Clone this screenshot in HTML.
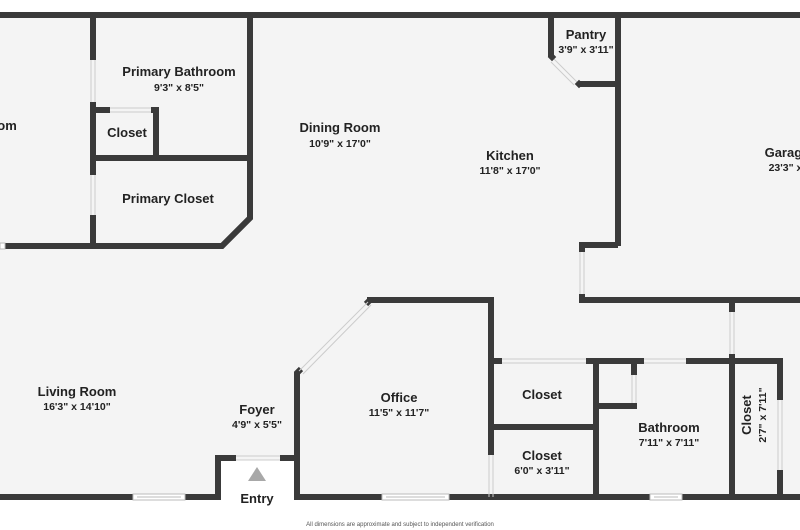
<!DOCTYPE html>
<html><head><meta charset="utf-8"><style>
html,body{margin:0;padding:0;background:#fff;}
svg{display:block;font-family:"Liberation Sans",sans-serif;}
.t{font-weight:bold;font-size:13px;fill:#222;text-anchor:middle;}
.d{font-weight:bold;font-size:10.5px;fill:#222;text-anchor:middle;}
</style></head><body>
<svg width="800" height="530" viewBox="0 0 800 530" xmlns="http://www.w3.org/2000/svg">
<rect x="0" y="15" width="800" height="483" fill="#f4f4f4"/>
<rect x="220" y="460" width="76" height="40" fill="#fff"/>
<g stroke="#3a3a3a" stroke-width="6" fill="none" stroke-linecap="butt">
<!-- top -->
<line x1="0" y1="15" x2="800" y2="15"/>
<!-- bottom -->
<line x1="0" y1="497" x2="221" y2="497"/>
<line x1="294" y1="497" x2="800" y2="497"/>
<!-- entry -->
<polyline points="218,500 218,458 236,458"/>
<line x1="280" y1="458" x2="297" y2="458"/>
<!-- left block -->
<line x1="93" y1="15" x2="93" y2="60"/>
<line x1="93" y1="102" x2="93" y2="175"/>
<line x1="93" y1="215" x2="93" y2="249"/>
<polyline points="5,246 222,246 250,218 250,15"/>
<line x1="93" y1="158" x2="250" y2="158"/>
<line x1="93" y1="110" x2="110" y2="110"/>
<polyline points="151,110 156,110 156,158"/>
<!-- pantry -->
<polyline points="551,15 551,57"/>
<polyline points="579,84 618,84"/>
<line x1="618" y1="15" x2="618" y2="246"/>
<polyline points="618,245 582,245 582,252"/>
<polyline points="582,294 582,300 800,300"/>
<!-- right hall -->
<line x1="732" y1="300" x2="732" y2="312"/>
<line x1="732" y1="354" x2="732" y2="497"/>
<!-- office -->
<polyline points="367,300 491,300 491,455"/>
<polyline points="297,497 297,373 301,369"/>
<line x1="366" y1="304" x2="370" y2="300"/>
<!-- closets row -->
<line x1="491" y1="361" x2="502" y2="361"/>
<line x1="586" y1="361" x2="644" y2="361"/>
<line x1="686" y1="361" x2="783" y2="361"/>
<line x1="491" y1="427" x2="596" y2="427"/>
<line x1="596" y1="361" x2="596" y2="497"/>
<line x1="634" y1="361" x2="634" y2="375"/>
<line x1="596" y1="406" x2="637" y2="406"/>
<line x1="780" y1="361" x2="780" y2="400"/>
<line x1="780" y1="470" x2="780" y2="497"/>
</g>
<!-- door/window lines -->
<g stroke="#ccc" stroke-width="1" fill="none">
<line x1="91" y1="60" x2="91" y2="102"/><line x1="95" y1="60" x2="95" y2="102"/>
<line x1="91" y1="175" x2="91" y2="215"/><line x1="95" y1="175" x2="95" y2="215"/>
<line x1="110" y1="108" x2="151" y2="108"/><line x1="110" y1="112" x2="151" y2="112"/>
<line x1="236" y1="456" x2="280" y2="456"/><line x1="236" y1="460" x2="280" y2="460"/>
<line x1="580" y1="252" x2="580" y2="294"/><line x1="584" y1="252" x2="584" y2="294"/>
<line x1="730" y1="312" x2="730" y2="354"/><line x1="734" y1="312" x2="734" y2="354"/>
<line x1="502" y1="359" x2="586" y2="359"/><line x1="502" y1="363" x2="586" y2="363"/>
<line x1="644" y1="359" x2="686" y2="359"/><line x1="644" y1="363" x2="686" y2="363"/>
<line x1="489" y1="455" x2="489" y2="497"/><line x1="493" y1="455" x2="493" y2="497"/>
<line x1="632" y1="375" x2="632" y2="403"/><line x1="636" y1="375" x2="636" y2="403"/>
<line x1="778" y1="400" x2="778" y2="470"/><line x1="782" y1="400" x2="782" y2="470"/>
<line x1="299" y1="371" x2="368" y2="302"/><line x1="303" y1="374" x2="371" y2="305"/>
<line x1="554" y1="59" x2="577" y2="82"/><line x1="551" y1="62" x2="574" y2="85"/>
</g>
<g fill="#3a3a3a">
<rect x="549" y="54" width="6" height="6" transform="rotate(45 552 57)"/>
<rect x="576" y="81" width="6" height="6" transform="rotate(45 579 84)"/>
</g>
<!-- bottom windows -->
<g fill="#fff" stroke="#bbb" stroke-width="1">
<rect x="133" y="494" width="52" height="6"/>
<rect x="382" y="494" width="67" height="6"/>
<rect x="650" y="494" width="32" height="6"/>
<rect x="0" y="243" width="5" height="6"/>
</g>
<g stroke="#bbb" stroke-width="1">
<line x1="137" y1="497" x2="181" y2="497"/><line x1="386" y1="497" x2="445" y2="497"/><line x1="654" y1="497" x2="678" y2="497"/>
</g>
<polygon points="257,467 248,481 266,481" fill="#a8a8a8"/>
<!-- labels -->
<text class="t" x="7" y="130">om</text>
<text class="t" x="179" y="76">Primary Bathroom</text><text class="d" x="179" y="91">9'3" x 8'5"</text>
<text class="t" x="127" y="137">Closet</text>
<text class="t" x="168" y="203">Primary Closet</text>
<text class="t" x="340" y="132">Dining Room</text><text class="d" x="340" y="147">10'9" x 17'0"</text>
<text class="t" x="510" y="160">Kitchen</text><text class="d" x="510" y="174">11'8" x 17'0"</text>
<text class="t" x="586" y="39">Pantry</text><text class="d" x="586" y="53">3'9" x 3'11"</text>
<text class="t" x="787" y="157">Garage</text><text class="d" x="794" y="171">23'3" x 17'</text>
<text class="t" x="77" y="396">Living Room</text><text class="d" x="77" y="410">16'3" x 14'10"</text>
<text class="t" x="257" y="414">Foyer</text><text class="d" x="257" y="428">4'9" x 5'5"</text>
<text class="t" x="257" y="503">Entry</text>
<text class="t" x="399" y="402">Office</text><text class="d" x="399" y="416">11'5" x 11'7"</text>
<text class="t" x="542" y="399">Closet</text>
<text class="t" x="542" y="460">Closet</text><text class="d" x="542" y="474">6'0" x 3'11"</text>
<text class="t" x="669" y="432">Bathroom</text><text class="d" x="669" y="446">7'11" x 7'11"</text>
<text class="t" transform="translate(751,415) rotate(-90)" x="0" y="0">Closet</text>
<text class="d" transform="translate(766,415) rotate(-90)" x="0" y="0">2'7" x 7'11"</text>
<text x="400" y="526" font-size="6" fill="#555" text-anchor="middle">All dimensions are approximate and subject to independent verification</text>
</svg>
</body></html>
